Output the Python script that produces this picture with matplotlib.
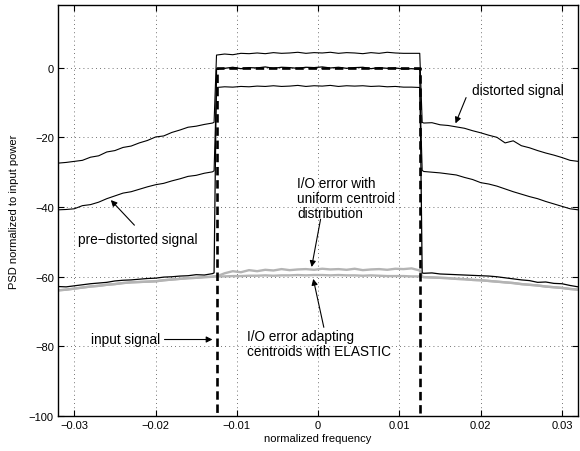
import matplotlib
matplotlib.use('Agg')
from matplotlib import pyplot as plt

plt.rcParams['font.family'] = ['Liberation Sans', 'DejaVu Sans']

# frequency grids (normalized frequency)
freqLeft = [-0.032, -0.031, -0.030, -0.029, -0.028, -0.027, -0.026, -0.025, -0.024, -0.023, -0.022,
            -0.021, -0.020, -0.019, -0.018, -0.017, -0.016, -0.015, -0.014, -0.013, -0.0128]
freqBand = [-0.0125, -0.0115, -0.0105, -0.0095, -0.0085, -0.0075, -0.0065, -0.0055, -0.0045,
            -0.0035, -0.0025, -0.0015, -0.0005, 0.0005, 0.0015, 0.0025, 0.0035, 0.0045, 0.0055,
            0.0065, 0.0075, 0.0085, 0.0095, 0.0105, 0.0115, 0.0125]
freqRight = [0.0128, 0.013, 0.014, 0.015, 0.016, 0.017, 0.018, 0.019, 0.020, 0.021, 0.022,
             0.023, 0.024, 0.025, 0.026, 0.027, 0.028, 0.029, 0.030, 0.031, 0.032]

# distorted signal (dB)
distLeft = [-27.4, -27.2, -26.9, -26.6, -25.7, -25.3, -24.2, -23.8, -22.9, -22.5, -21.6,
            -20.9, -19.9, -19.6, -18.6, -17.9, -17.1, -16.8, -16.3, -15.9, -15.7]
distBand = [3.6, 3.9, 3.7, 4.1, 4.0, 4.2, 4.0, 4.3, 4.1, 4.2, 4.4, 4.1, 4.3, 4.2, 4.4, 4.1,
            4.3, 4.2, 4.0, 4.3, 4.1, 4.4, 4.2, 4.1, 4.1, 4.1]
distRight = [-15.7, -15.9, -15.8, -16.4, -16.6, -17.0, -17.4, -18.1, -18.7, -19.4, -20.0,
             -21.6, -21.0, -22.4, -23.0, -23.8, -24.5, -25.1, -25.8, -26.6, -26.9]

# pre-distorted signal (dB)
preLeft = [-40.8, -40.7, -40.5, -39.6, -39.3, -38.6, -37.6, -36.8, -36.0, -35.6, -34.9,
           -34.2, -33.6, -33.2, -32.5, -31.9, -31.2, -30.9, -30.3, -29.9, -29.6]
preBand = [-5.7, -5.5, -5.6, -5.4, -5.5, -5.3, -5.4, -5.2, -5.4, -5.3, -5.1, -5.4, -5.2,
           -5.3, -5.1, -5.4, -5.2, -5.3, -5.2, -5.4, -5.3, -5.5, -5.4, -5.6, -5.6, -5.7]
preRight = [-29.5, -29.8, -30.0, -30.2, -30.5, -30.8, -31.5, -32.1, -33.0, -33.4, -34.0,
            -34.8, -35.6, -36.3, -37.0, -37.6, -38.4, -39.1, -39.8, -40.5, -40.8]

# linearized output (dB)
linLeft = [-62.8, -62.9, -62.6, -62.3, -62.0, -61.8, -61.6, -61.2, -61.0, -60.9, -60.7,
           -60.5, -60.4, -60.1, -60.0, -59.8, -59.7, -59.4, -59.5, -59.1, -58.9]
linBand = [-0.4, -0.2, 0.1, -0.3, 0.0, -0.1, 0.2, -0.2, 0.1, 0.0, -0.2, 0.1, 0.0, 0.2, -0.1,
           0.1, -0.2, 0.0, 0.1, -0.3, 0.0, -0.2, -0.1, -0.4, -0.3, -0.5]
linRight = [-58.9, -59.0, -58.9, -59.2, -59.3, -59.4, -59.5, -59.6, -59.7, -59.8, -60.0,
            -60.3, -60.6, -60.9, -61.1, -61.6, -61.5, -61.9, -62.0, -62.5, -62.9]

# I/O error curves (dB)
errLeft = [-63.9, -63.7, -63.4, -63.1, -62.8, -62.6, -62.3, -62.1, -61.8, -61.6, -61.5,
           -61.4, -61.3, -61.0, -60.8, -60.6, -60.4, -60.3, -60.1, -60.0, -59.9]
errRight = [-60.0, -60.1, -60.2, -60.3, -60.4, -60.6, -60.7, -60.9, -61.0, -61.2, -61.4,
            -61.6, -61.8, -62.1, -62.3, -62.5, -62.8, -63.0, -63.2, -63.5, -63.7]
elasticBand = [-59.9, -59.9, -59.8, -59.8, -59.7, -59.7, -59.6, -59.7, -59.6, -59.6, -59.5,
               -59.6, -59.5, -59.5, -59.6, -59.5, -59.6, -59.6, -59.7, -59.6, -59.7, -59.8,
               -59.8, -59.8, -59.9, -59.9]
uniformBand = [-59.9, -59.0, -58.4, -58.7, -58.1, -58.4, -58.0, -58.2, -57.8, -58.1, -57.9,
               -57.8, -58.0, -57.7, -57.9, -57.8, -58.0, -57.7, -58.1, -57.9, -57.8, -58.0,
               -57.7, -57.8, -57.6, -58.2]

# input signal (ideal band-limited)
inputFreq = [-0.032, -0.0125, -0.0125, 0.0125, 0.0125, 0.032]
inputPsd = [-120, -120, 0, 0, -120, -120]

fig = plt.figure(figsize=(5.8, 4.52), dpi=100)
ax = fig.add_axes([0.1, 0.077, 0.897, 0.91])

gray = '#b4b4b4'
ax.plot(freqLeft + freqBand + freqRight, errLeft + uniformBand + errRight, color=gray, lw=1.7)
ax.plot(freqLeft + freqBand + freqRight, errLeft + elasticBand + errRight, color=gray, lw=1.7)
ax.plot(freqLeft + freqBand + freqRight, distLeft + distBand + distRight, color='k', lw=0.8)
ax.plot(freqLeft + freqBand + freqRight, preLeft + preBand + preRight, color='k', lw=0.8)
ax.plot(freqLeft + freqBand + freqRight, linLeft + linBand + linRight, color='k', lw=0.9)
ax.plot(inputFreq, inputPsd, color='k', lw=1.9, dashes=(3.2, 1.8))

ax.set_xlim(-0.032, 0.032)
ax.set_ylim(-100, 18)
ax.set_xticks([-0.03, -0.02, -0.01, 0, 0.01, 0.02, 0.03])
ax.set_xticklabels(['\u22120.03', '\u22120.02', '\u22120.01', '0', '0.01', '0.02', '0.03'])
ax.set_yticks([-100, -80, -60, -40, -20, 0])
ax.set_yticklabels(['\u2212100', '\u221280', '\u221260', '\u221240', '\u221220', '0'])
ax.tick_params(direction='in', top=True, right=True, length=4, labelsize=8, pad=3)
ax.grid(True, color='#444444', linestyle=(0, (1, 4)), lw=0.6)
for s in ax.spines.values():
    s.set_linewidth(1.0)
ax.set_xlabel('normalized frequency', fontsize=8, labelpad=2)
ax.set_ylabel('PSD normalized to input power', fontsize=8, labelpad=7)

arrow = dict(arrowstyle='-|>', color='k', lw=0.8, mutation_scale=9, shrinkA=0, shrinkB=0)
fs = 9.8
ax.text(0.0189, -6.5, 'distorted signal', fontsize=fs, ha='left', va='center')
ax.annotate('', xy=(0.0169, -16.0), xytext=(0.0182, -8.6), arrowprops=arrow)

ax.text(-0.0296, -49.1, 'pre\u2212distorted signal', fontsize=fs, ha='left', va='center')
ax.annotate('', xy=(-0.0255, -38.0), xytext=(-0.0226, -45.2), arrowprops=arrow)

ax.text(-0.0026, -37.5, 'I/O error with\nuniform centroid\ndistribution', fontsize=fs,
        ha='left', va='center', linespacing=1.1)
ax.annotate('', xy=(-0.0008, -57.2), xytext=(0.0003, -43.5), arrowprops=arrow)

ax.text(-0.0088, -79.1, 'I/O error adapting\ncentroids with ELASTIC', fontsize=fs,
        ha='left', va='center', linespacing=1.1)
ax.annotate('', xy=(-0.0006, -60.6), xytext=(0.0007, -74.5), arrowprops=arrow)

ax.text(-0.0279, -77.8, 'input signal', fontsize=fs, ha='left', va='center')
ax.annotate('', xy=(-0.0130, -78.0), xytext=(-0.0189, -78.0), arrowprops=arrow)

fig.savefig('out.png', dpi=100)
